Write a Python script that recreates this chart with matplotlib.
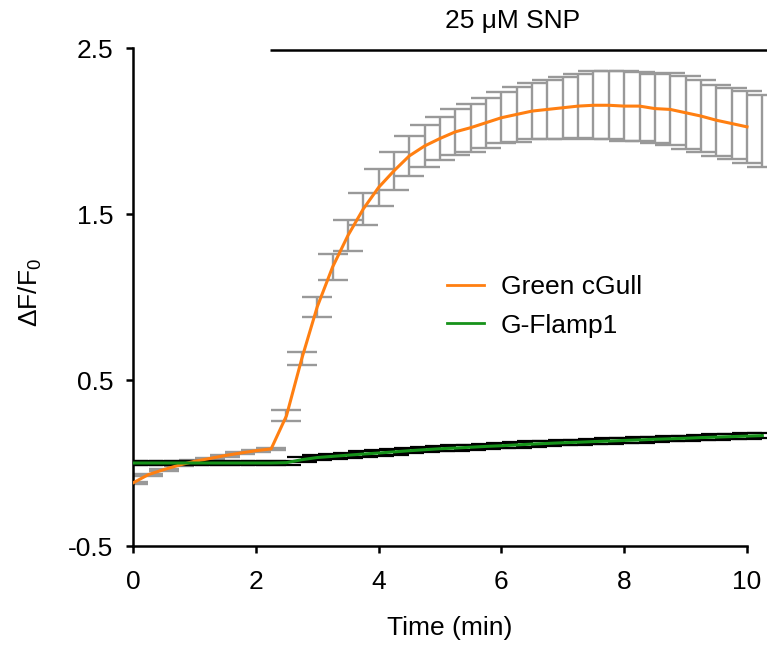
import matplotlib
matplotlib.use("Agg")
import matplotlib.pyplot as plt

plt.rcParams['font.family'] = ['Liberation Sans', 'DejaVu Sans']
plt.rcParams['mathtext.default'] = 'regular'

# ---- data ----
time_min = [0.0, 0.25, 0.5, 0.75, 1.0, 1.25, 1.5, 1.75, 2.0, 2.25,
            2.5, 2.75, 3.0, 3.25, 3.5, 3.75, 4.0, 4.25, 4.5, 4.75,
            5.0, 5.25, 5.5, 5.75, 6.0, 6.25, 6.5, 6.75, 7.0, 7.25,
            7.5, 7.75, 8.0, 8.25, 8.5, 8.75, 9.0, 9.25, 9.5, 9.75,
            10.0, 10.25]

cgull_mean = [-0.12, -0.07, -0.04, -0.013, 0.01, 0.027, 0.045, 0.06, 0.074, 0.085,
              0.285, 0.63, 0.94, 1.18, 1.37, 1.53, 1.66, 1.76, 1.85, 1.91,
              1.955, 1.995, 2.02, 2.05, 2.08, 2.10, 2.12, 2.13, 2.14, 2.15,
              2.155, 2.155, 2.15, 2.15, 2.135, 2.13, 2.11, 2.09, 2.065, 2.045,
              2.025, 2.00]
cgull_sem = [0.006, 0.006, 0.006, 0.006, 0.006, 0.006, 0.006, 0.006, 0.006, 0.006,
             0.033, 0.04, 0.063, 0.08, 0.094, 0.097, 0.112, 0.113, 0.12, 0.127,
             0.128, 0.14, 0.145, 0.15, 0.155, 0.165, 0.17, 0.18, 0.187, 0.194,
             0.204, 0.204, 0.21, 0.208, 0.21, 0.217, 0.22, 0.219, 0.215, 0.215,
             0.218, 0.218]

flamp_mean = [0.0, 0.0, 0.0, 0.0, 0.0, 0.0, 0.0, 0.0, 0.0, 0.0,
              0.002, 0.02, 0.033, 0.04, 0.047, 0.054, 0.06, 0.067, 0.074, 0.08,
              0.086, 0.09, 0.095, 0.1, 0.104, 0.109, 0.114, 0.118, 0.122, 0.125,
              0.129, 0.132, 0.136, 0.139, 0.143, 0.146, 0.149, 0.153, 0.156, 0.159,
              0.162, 0.165]
flamp_sem = [0.01, 0.01, 0.01, 0.01, 0.01, 0.01, 0.01, 0.01, 0.01, 0.01,
             0.012, 0.015, 0.016, 0.016, 0.016, 0.016, 0.016, 0.016, 0.016, 0.016,
             0.016, 0.016, 0.016, 0.016, 0.016, 0.016, 0.016, 0.016, 0.016, 0.016,
             0.016, 0.016, 0.016, 0.016, 0.016, 0.016, 0.016, 0.016, 0.016, 0.016,
             0.016, 0.016]

series_labels = ['Green cGull', 'G-Flamp1']
x_ticks = [0, 2, 4, 6, 8, 10]
y_ticks = [-0.5, 0.5, 1.5, 2.5]
stim_label = '25 \u03bcM SNP'
stim_start = 2.23

ORANGE = '#FF7F11'
GREEN = '#16921A'
FS = 19

fig = plt.figure(figsize=(7.67, 6.45), dpi=100)
ax = fig.add_axes([133/767, 99/645, 634/767, 498/645])

# error bars
ax.errorbar(time_min, cgull_mean, yerr=cgull_sem, fmt='none', ecolor='#999999',
            elinewidth=1.7, capsize=11, capthick=1.7, zorder=2)
ax.errorbar(time_min, flamp_mean, yerr=flamp_sem, fmt='none', ecolor='black',
            elinewidth=1.4, capsize=11, capthick=1.6, zorder=3)

# lines (cGull trace ends at 10 min)
t_line = [t for t in time_min if t <= 10.0]
ax.plot(t_line, cgull_mean[:len(t_line)], color=ORANGE, lw=2.2, zorder=4,
        label=series_labels[0])
ax.plot(time_min, flamp_mean, color=GREEN, lw=2.2, zorder=5,
        label=series_labels[1])

ax.set_xlim(0, 10.326)
ax.set_ylim(-0.5, 2.5)
ax.set_xticks(x_ticks)
ax.set_yticks(y_ticks)
ax.set_yticklabels([f'{v:.1f}' for v in y_ticks])
ax.spines['top'].set_visible(False)
ax.spines['right'].set_visible(False)
ax.spines['left'].set_linewidth(1.8)
ax.spines['bottom'].set_linewidth(1.8)
ax.spines['bottom'].set_bounds(0, 10)
ax.tick_params(axis='both', direction='out', length=5, width=1.8,
               labelsize=FS, colors='black')
ax.tick_params(axis='x', pad=12)
ax.tick_params(axis='y', pad=9)

ax.set_xlabel('Time (min)', fontsize=FS, labelpad=16)
fig.text(30/767, 1 - 292/645, '\u0394F/F$_0$', rotation=90, ha='center',
         va='center', fontsize=FS)

# stimulus bar
ax.plot([stim_start, 10.326], [2.49, 2.49], color='black', lw=1.8,
        clip_on=False, solid_capstyle='butt')
ax.text(6.19, 2.66, stim_label, ha='center', va='center', fontsize=FS,
        clip_on=False)

leg = ax.legend(loc='upper left', bbox_to_anchor=((447 - 133)/634, (645 - 99 - 275)/498),
                frameon=False, fontsize=FS, handlelength=1.4,
                handletextpad=0.65, labelspacing=0.55, borderpad=0,
                borderaxespad=0)
for h in leg.get_lines():
    h.set_linewidth(2.0)

fig.savefig('out.png', dpi=100)
